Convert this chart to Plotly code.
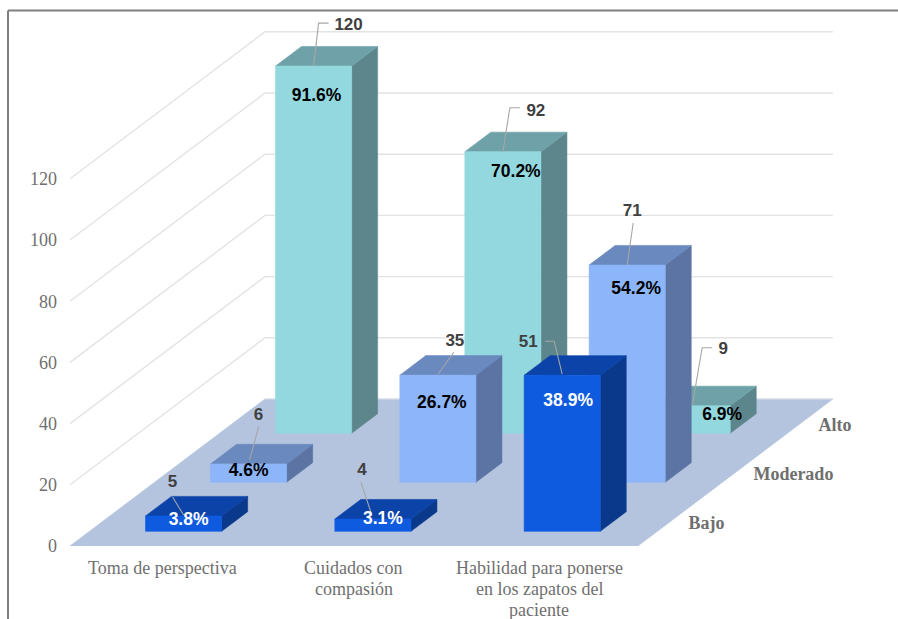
import plotly.graph_objects as go

# Survey results: three empathy dimensions split by level
CATEGORIES = [["Toma de perspectiva"], ["Cuidados con", "compasión"],
              ["Habilidad para ponerse", "en los zapatos del", "paciente"]]
LEVELS = ["Bajo", "Moderado", "Alto"]
BAJO = [5, 4, 51]
MODERADO = [6, 35, 71]
ALTO = [120, 92, 9]
BAJO_PCT = [3.8, 3.1, 38.9]
MODERADO_PCT = [4.6, 26.7, 54.2]
ALTO_PCT = [91.6, 70.2, 6.9]
Y_TICKS = [0, 20, 40, 60, 80, 100, 120]

# Figure frame and scale of the two axes (pixels per unit)
W, H = 898, 619
M_L, M_R, M_T, M_B = 58, 8, 8, 73
PX_CAT, PX_VAL = 189.3, 3.06
ORIGIN_PX = 70
# Oblique depth: one level row shifts this far along each axis
DEPTH_X, DEPTH_Y = 65.0 / PX_CAT, 49.0 / PX_VAL
BAR_MARGIN, BAR_WIDTH = 0.296, 0.402
ROW_MARGIN, ROW_DEPTH = 0.30, 0.40
# Horizontal centre of each category caption and its line pitch
CAPTION_X = [0.49, 1.50, 2.48]
CAPTION_FIRST_PX, CAPTION_PITCH_PX = 22, 21
# Text traces sit slightly above their anchor, so nudge them down
TEXT_NUDGE_PX = 2.5

GRID = "#e3e3e3"
FLOOR = "#b4c4de"
TEXT = "#6f6f6f"
LABEL = "#404040"
LEADER = "#a6a6a6"
# front, side, top colours per level
FACES = {
    "Bajo": ("#0f5be0", "#0a398c", "#0b43a8"),
    "Moderado": ("#8db5f9", "#5b74a3", "#6a89bf"),
    "Alto": ("#93d8df", "#5d868c", "#6ea2a8"),
}
PCT_COLOR = {"Bajo": "#ffffff", "Moderado": "#000000", "Alto": "#000000"}

# Pixel offsets from the front-top centre of each bar: percentage label,
# value label and its leader polyline
PCT_OFFSET = {
    ("Bajo", 0): (5, 2), ("Bajo", 1): (10, -2), ("Bajo", 2): (6, 24),
    ("Moderado", 0): (0, 5), ("Moderado", 1): (4, 26), ("Moderado", 2): (9, 22),
    ("Alto", 0): (3, 28), ("Alto", 1): (13, 18), ("Alto", 2): (30, 7),
}
VALUE_OFFSET = {
    ("Bajo", 0): (-11, -36), ("Bajo", 1): (-11, -51), ("Bajo", 2): (-34, -35),
    ("Moderado", 0): (10, -51), ("Moderado", 1): (17, -36), ("Moderado", 2): (5, -56),
    ("Alto", 0): (35, -43), ("Alto", 1): (33, -43), ("Alto", 2): (31, -59),
}
LEADER_PATH = {
    ("Bajo", 0): [(0, -1), (-11, -19)],
    ("Bajo", 1): [(-1, -4), (-12, -37)],
    ("Bajo", 2): [(0, -1), (-8, -34), (-17, -34)],
    ("Moderado", 0): [(1, -4), (10, -37)],
    ("Moderado", 1): [(0, -1), (16, -23)],
    ("Moderado", 2): [(0, 0), (6, -42)],
    ("Alto", 0): [(0, 0), (5, -43), (15, -43)],
    ("Alto", 1): [(0, 0), (7, -44), (17, -44)],
    ("Alto", 2): [(0, 0), (10, -58), (20, -58)],
}


def project(cat, row, value):
    """Map category position, depth row and value onto the flat axes."""
    return cat + row * DEPTH_X, value + row * DEPTH_Y


def polygon(points, color, name):
    xy = [project(*p) for p in points]
    return go.Scatter(x=[p[0] for p in xy] + [xy[0][0]],
                      y=[p[1] for p in xy] + [xy[0][1]],
                      mode="lines", fill="toself", fillcolor=color,
                      line=dict(color=color, width=0.6), name=name,
                      hoverinfo="skip", showlegend=False)


fig = go.Figure()

# Floor of the chart
fig.add_trace(polygon([(0, 0, 0), (3, 0, 0), (3, 3, 0), (0, 3, 0)], FLOOR, "Piso"))

# Gridlines on the side wall and on the back wall
for tick in Y_TICKS[1:]:
    a, b, c = project(0, 0, tick), project(0, 3, tick), project(3, 3, tick)
    fig.add_trace(go.Scatter(x=[a[0], b[0], c[0]], y=[a[1], b[1], c[1]], mode="lines",
                             line=dict(color=GRID, width=1.4),
                             hoverinfo="skip", showlegend=False))
a, c = project(0, 3, 0), project(3, 3, 0)
fig.add_trace(go.Scatter(x=[a[0], c[0]], y=[a[1], c[1]], mode="lines",
                         line=dict(color="#d9dfea", width=1.2),
                         hoverinfo="skip", showlegend=False))

SERIES = [("Alto", 2, ALTO, ALTO_PCT), ("Moderado", 1, MODERADO, MODERADO_PCT),
          ("Bajo", 0, BAJO, BAJO_PCT)]

# Bars, painted from the back row to the front row
for level, row, values, _ in SERIES:
    front, side, top = FACES[level]
    r0, r1 = row + ROW_MARGIN, row + ROW_MARGIN + ROW_DEPTH
    for i, v in enumerate(values):
        c0, c1 = i + BAR_MARGIN, i + BAR_MARGIN + BAR_WIDTH
        fig.add_trace(polygon([(c1, r0, 0), (c1, r1, 0), (c1, r1, v), (c1, r0, v)], side, level))
        fig.add_trace(polygon([(c0, r0, v), (c1, r0, v), (c1, r1, v), (c0, r1, v)], top, level))
        fig.add_trace(polygon([(c0, r0, 0), (c1, r0, 0), (c1, r0, v), (c0, r0, v)], front, level))

# Leader lines and data labels go above every bar
for level, row, values, pcts in SERIES:
    r0 = row + ROW_MARGIN
    for i, (v, p) in enumerate(zip(values, pcts)):
        ax, ay = project(i + BAR_MARGIN + BAR_WIDTH / 2, r0, v)
        path = LEADER_PATH[(level, i)]
        fig.add_trace(go.Scatter(x=[ax + dx / PX_CAT for dx, _ in path],
                                 y=[ay - dy / PX_VAL for _, dy in path],
                                 mode="lines", line=dict(color=LEADER, width=1.1),
                                 hoverinfo="skip", showlegend=False))
        dx, dy = PCT_OFFSET[(level, i)]
        fig.add_trace(go.Scatter(x=[ax + dx / PX_CAT], y=[ay - (dy + TEXT_NUDGE_PX) / PX_VAL],
                                 mode="text", text=[f"<b>{p}%</b>"],
                                 textposition="middle center",
                                 textfont=dict(family="Liberation Sans", size=17.5,
                                               color=PCT_COLOR[level]),
                                 hoverinfo="skip", showlegend=False))
        dx, dy = VALUE_OFFSET[(level, i)]
        fig.add_trace(go.Scatter(x=[ax + dx / PX_CAT], y=[ay - (dy + TEXT_NUDGE_PX) / PX_VAL],
                                 mode="text", text=[f"<b>{v}</b>"],
                                 textposition="middle center",
                                 textfont=dict(family="Liberation Sans", size=17, color=LABEL),
                                 hoverinfo="skip", showlegend=False))

# Depth axis labels along the right edge of the floor
for row, level in enumerate(LEVELS):
    x, y = project(3 + 18 / PX_CAT, row + 0.5, -TEXT_NUDGE_PX / PX_VAL)
    fig.add_trace(go.Scatter(x=[x], y=[y], mode="text", text=[f"<b>{level}</b>"],
                             textposition="middle right",
                             textfont=dict(family="Liberation Serif", size=18, color=TEXT),
                             hoverinfo="skip", showlegend=False))

# Category captions below the floor, with a tighter line pitch than tick labels allow
for cx, lines in zip(CAPTION_X, CATEGORIES):
    for n, line in enumerate(lines):
        fig.add_annotation(x=cx, y=0, xref="x", yref="y", text=line, showarrow=False,
                           yshift=-(CAPTION_FIRST_PX + n * CAPTION_PITCH_PX),
                           xanchor="center", yanchor="middle",
                           font=dict(family="Liberation Serif", size=18, color=TEXT))

plot_w = W - M_L - M_R
plot_h = H - M_T - M_B
x_start = (M_L - ORIGIN_PX) / PX_CAT
fig.update_layout(
    width=W, height=H, margin=dict(l=M_L, r=M_R, t=M_T, b=M_B),
    paper_bgcolor="white", plot_bgcolor="white", showlegend=False,
    xaxis=dict(range=[x_start, x_start + plot_w / PX_CAT], showgrid=False, zeroline=False,
               showline=False, ticks="", showticklabels=False, automargin=False),
    yaxis=dict(range=[0, plot_h / PX_VAL], showgrid=False, zeroline=False, showline=False,
               ticks="", tickmode="array", tickvals=Y_TICKS, automargin=False,
               tickfont=dict(family="Liberation Serif", size=18, color=TEXT)),
    shapes=[
        dict(type="line", xref="paper", yref="paper", line=dict(color="#7f7f7f", width=2),
             x0=(8 - M_L) / plot_w, x1=(W - M_L) / plot_w,
             y0=(H - M_B - 10.5) / plot_h, y1=(H - M_B - 10.5) / plot_h),
        dict(type="line", xref="paper", yref="paper", line=dict(color="#7f7f7f", width=2),
             x0=(8 - M_L) / plot_w, x1=(8 - M_L) / plot_w,
             y0=(H - M_B - 10.5) / plot_h, y1=-M_B / plot_h),
    ],
)

fig.write_html("out.html")
